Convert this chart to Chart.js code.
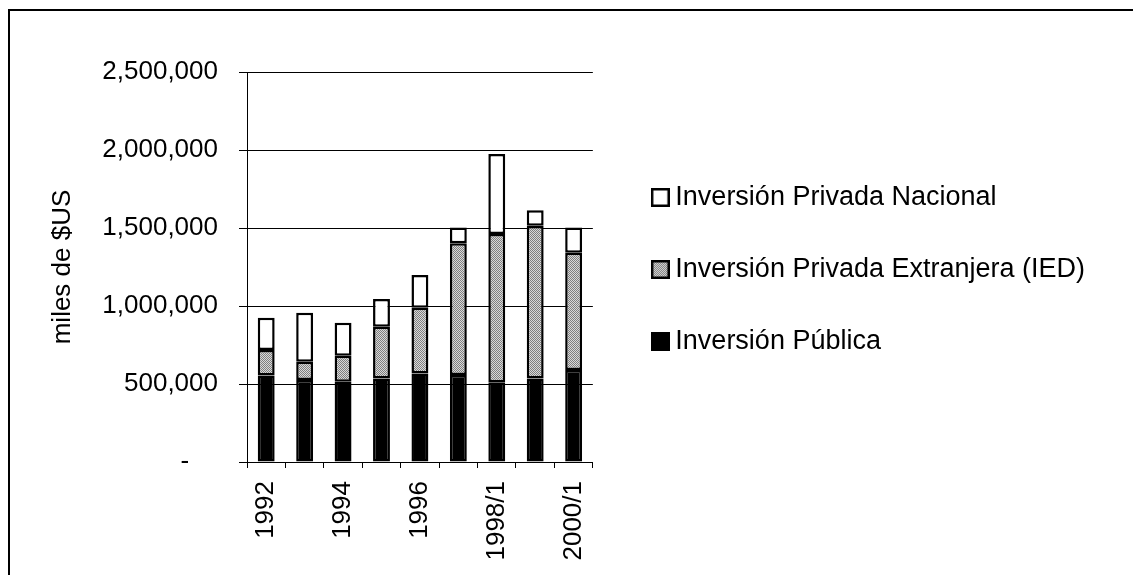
<!DOCTYPE html>
<html>
<head>
<meta charset="utf-8">
<script src="https://cdn.jsdelivr.net/npm/chart.js@4/dist/chart.umd.min.js"></script>
<style>
  html, body { margin: 0; padding: 0; background: #fff; overflow: hidden; }
  #marco { position: absolute; left: 8px; top: 9px; width: 2000px; height: 2000px;
           border-left: 2px solid #000; border-top: 2px solid #000; }
  #wrap { position: absolute; left: 0; top: 0; width: 1133px; height: 575px; }
</style>
</head>
<body>
<div id="marco"></div>
<div id="wrap"><canvas id="grafico" width="1133" height="575"></canvas></div>
<script>
// Datos (miles de $US)
const anios = ['1992', '1993', '1994', '1995', '1996', '1997', '1998/1', '1999', '2000/1'];
const invPublica = [555000, 525000, 515000, 536000, 568000, 558000, 511000, 536000, 590000];
const invExtranjera = [163000, 118000, 166000, 331000, 421000, 844000, 951000, 979000, 752000];
const invNacional = [207000, 314000, 212000, 178000, 210000, 102000, 512000, 98000, 162000];
const ticksY = [0, 500000, 1000000, 1500000, 2000000, 2500000];

const FONT = 'Liberation Sans, Arial, sans-serif';

// trama punteada gris para la IED
function trama(ctx) {
  const c = document.createElement('canvas');
  c.width = 2; c.height = 2;
  const g = c.getContext('2d');
  g.fillStyle = '#d9d9d9'; g.fillRect(0, 0, 2, 2);
  g.fillStyle = '#7f7f7f'; g.fillRect(0, 0, 1, 1); g.fillRect(1, 1, 1, 1);
  return ctx.createPattern(c, 'repeat');
}

function muestra(fill) {
  const c = document.createElement('canvas');
  c.width = 19; c.height = 19;
  const g = c.getContext('2d');
  g.fillStyle = fill === 'trama' ? trama(g) : fill;
  g.fillRect(0, 0, 19, 19);
  g.strokeStyle = '#000'; g.lineWidth = 2.5;
  g.strokeRect(1.25, 1.25, 16.5, 16.5);
  return c;
}

const canvas = document.getElementById('grafico');
const ctx = canvas.getContext('2d');
const muestras = [muestra('#000'), muestra('trama'), muestra('#fff')];

Chart.defaults.font.family = FONT;
Chart.defaults.font.size = 26;
Chart.defaults.color = '#000';

const comun = {
  borderColor: '#000', borderWidth: 2.5, borderSkipped: false,
  barPercentage: 0.44, categoryPercentage: 1
};

new Chart(canvas, {
  type: 'bar',
  data: {
    labels: anios,
    datasets: [
      Object.assign({ label: 'Inversión Pública', data: invPublica, backgroundColor: '#000' }, comun),
      Object.assign({ label: 'Inversión Privada Extranjera (IED)', data: invExtranjera, backgroundColor: trama(ctx) }, comun),
      Object.assign({ label: 'Inversión Privada Nacional', data: invNacional, backgroundColor: '#fff' }, comun)
    ]
  },
  options: {
    responsive: false,
    animation: false,
    layout: { padding: { left: 40, top: 72, right: 38, bottom: 0 } },
    plugins: {
      tooltip: { enabled: false },
      legend: {
        position: 'right',
        align: 'start',
        reverse: true,
        maxWidth: 600,
        title: { display: true, text: ' ', font: { size: 10 }, padding: { top: 0, bottom: 55 } },
        labels: {
          font: { size: 27 },
          padding: 45,
          usePointStyle: true,
          pointStyleWidth: 3,
          boxHeight: 19,
          generateLabels: chart => {
            const items = Chart.defaults.plugins.legend.labels.generateLabels(chart);
            items.forEach(it => { it.pointStyle = muestras[it.datasetIndex]; });
            return items;
          }
        }
      }
    },
    scales: {
      x: {
        stacked: true,
        offset: true,
        grid: { display: true, drawOnChartArea: false, color: '#000', lineWidth: 1, tickLength: 6, offset: true },
        border: { display: true, color: '#000' },
        ticks: {
          autoSkip: false, maxRotation: 90, minRotation: 90, padding: 13,
          callback: (v, i) => (i % 2 === 0 ? anios[i] : '')
        },
        afterFit: s => { s.height = 113; }
      },
      y: {
        stacked: true,
        min: 0,
        max: 2500000,
        grid: { color: '#000', lineWidth: 1, tickLength: 8 },
        border: { display: true, color: '#000' },
        afterBuildTicks: s => { s.ticks = ticksY.map(v => ({ value: v })); },
        ticks: {
          padding: 21,
          callback: v => (v === 0 ? '-    ' : v.toLocaleString('en-US'))
        },
        title: { display: true, text: 'miles de $US', font: { size: 26 }, padding: { top: 7, bottom: 0 } },
        afterFit: s => { s.width = 207; }
      },
      y2: {
        position: 'right',
        display: true,
        grid: { display: false },
        border: { display: false },
        ticks: { display: false },
        afterFit: s => { s.width = 21; }
      }
    }
  }
});
</script>
</body>
</html>
